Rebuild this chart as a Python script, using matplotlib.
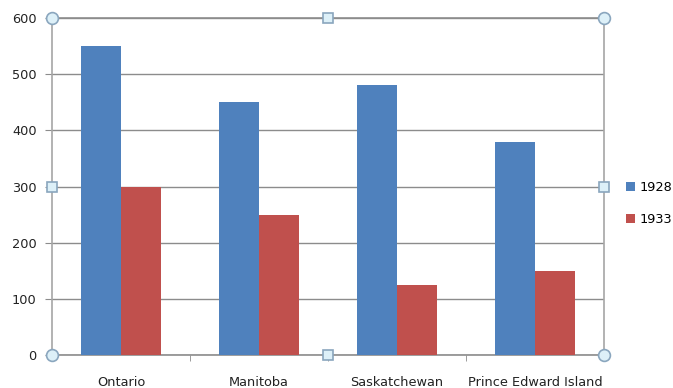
import numpy as np
import matplotlib.pyplot as plt

provinces = ['Ontario', 'Manitoba', 'Saskatchewan', 'Prince Edward Island']
values_1928 = [550, 450, 480, 380]
values_1933 = [300, 250, 125, 150]
series_names = ['1928', '1933']
yticks = [0, 100, 200, 300, 400, 500, 600]

blue = '#4F81BD'
red = '#C0504D'
grid_gray = '#8C8C8C'
text_color = '#222222'
fs = 9.3

fig = plt.figure(figsize=(6.73, 3.88), dpi=100)
ax = fig.add_axes([52 / 673, 1 - 355 / 388, 552 / 673, 337 / 388])

x = np.arange(len(provinces))
width = 0.29
ax.bar(x - width / 2, values_1928, width, color=blue, label=series_names[0], zorder=3)
ax.bar(x + width / 2, values_1933, width, color=red, label=series_names[1], zorder=3)

ax.set_xlim(-0.5, len(provinces) - 0.5)
ax.set_ylim(0, 600)
ax.set_yticks(yticks)
ax.yaxis.grid(True, color=grid_gray, linewidth=1, zorder=0)
ax.set_axisbelow(True)

# category labels centered, tick marks between categories
ax.set_xticks(x)
ax.set_xticklabels(provinces, fontsize=fs, color=text_color)
ax.tick_params(axis='x', length=0, pad=15)
ax.set_xticks(np.arange(0.5, len(provinces) - 0.5), minor=True)
ax.tick_params(axis='x', which='minor', length=4, direction='out', color=grid_gray)
ax.tick_params(axis='y', length=5, direction='out', color=grid_gray,
               labelsize=fs, labelcolor=text_color, pad=6)

for side in ['left', 'bottom', 'right', 'top']:
    ax.spines[side].set_color('#A6A6A6')
    ax.spines[side].set_linewidth(1.2)
ax.spines['top'].set_color(grid_gray)
ax.spines['bottom'].set_color(grid_gray)

# selection handles around the plot area
handle_style = dict(transform=ax.transAxes, clip_on=False, zorder=10,
                    markerfacecolor='#DDF0F8', markeredgecolor='#8AA6BE',
                    markeredgewidth=1.2, linestyle='none')
ax.plot([0, 1, 0, 1], [0, 0, 1, 1], marker='o', markersize=8.5, **handle_style)
ax.plot([0.5, 0.5, 0, 1], [0, 1, 0.5, 0.5], marker='s', markersize=6.5, **handle_style)

ax.legend(loc='center left', bbox_to_anchor=(1.03, 0.45), frameon=False,
          fontsize=fs, handlelength=0.7, handleheight=0.7, handletextpad=0.35,
          labelspacing=1.5, borderaxespad=0)

fig.savefig('out.png', dpi=100)
